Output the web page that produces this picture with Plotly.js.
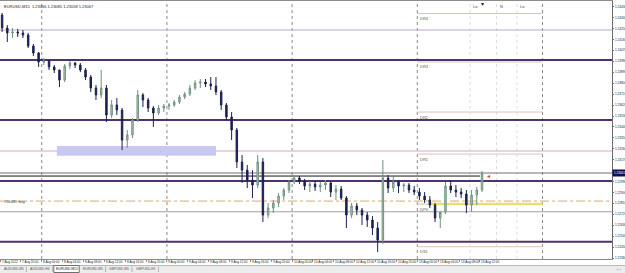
<!DOCTYPE html>
<html>
<head>
<meta charset="utf-8">
<script src="https://cdn.plot.ly/plotly-3.0.1.min.js"></script>
<style>
html,body{margin:0;padding:0;background:#fff;}
#chart{width:625px;height:273px;}
</style>
</head>
<body>
<div id="chart"></div>
<script>
// ---- data (hourly candles read from the EURUSD,M15 chart) ----
const openP = [1.24362,1.24255,1.24214,1.24222,1.24214,1.24197,1.24106,1.24049,1.23975,1.23983,
1.23934,1.23909,1.23826,1.23942,1.23966,1.23950,1.23909,1.23851,1.23761,1.23703,
1.23761,1.23538,1.23621,1.23580,1.23332,1.23374,1.23497,1.23703,1.23662,1.23596,
1.23555,1.23596,1.23612,1.23621,1.23645,1.23686,1.23711,1.23761,1.23802,1.23810,
1.23794,1.23777,1.23728,1.23621,1.23522,1.23415,1.23152,1.23085,1.23003,1.22962,
1.23152,1.22715,1.22773,1.22814,1.22871,1.22921,1.22987,1.23020,1.22995,1.22954,
1.22970,1.22946,1.22962,1.22979,1.22904,1.22929,1.22855,1.22715,1.22789,1.22756,
1.22715,1.22674,1.22608,1.22509,1.23020,1.22937,1.22987,1.22954,1.22962,1.22921,
1.22904,1.22871,1.22839,1.22797,1.22690,1.22740,1.22954,1.22921,1.22904,1.22888,
1.22797,1.22880,1.22921];
const highP = [1.24378,1.24279,1.24255,1.24246,1.24238,1.24214,1.24123,1.24057,1.24008,1.23991,
1.23950,1.23909,1.23958,1.23983,1.23975,1.23966,1.23925,1.23868,1.23785,1.23909,
1.23785,1.23662,1.23678,1.23596,1.23415,1.23514,1.23744,1.23719,1.23678,1.23612,
1.23621,1.23629,1.23637,1.23662,1.23703,1.23728,1.23785,1.23826,1.23835,1.23835,
1.23851,1.23851,1.23744,1.23637,1.23563,1.23432,1.23209,1.23127,1.23085,1.23209,
1.23184,1.22814,1.22839,1.22896,1.22937,1.23003,1.23044,1.23036,1.23012,1.22995,
1.22995,1.22987,1.23003,1.22987,1.22962,1.22954,1.22871,1.22814,1.22814,1.22773,
1.22740,1.22707,1.22657,1.23168,1.23044,1.23028,1.23003,1.22979,1.22979,1.22954,
1.22937,1.22904,1.22871,1.22814,1.22723,1.22987,1.23003,1.22962,1.22937,1.22921,
1.22921,1.22946,1.23077];
const lowP = [1.24222,1.24139,1.24173,1.24181,1.24173,1.24090,1.24024,1.23934,1.23950,1.23909,
1.23884,1.23769,1.23810,1.23917,1.23925,1.23892,1.23826,1.23728,1.23662,1.23678,
1.23481,1.23514,1.23538,1.23250,1.23267,1.23349,1.23481,1.23604,1.23563,1.23440,
1.23538,1.23563,1.23580,1.23604,1.23629,1.23670,1.23695,1.23744,1.23761,1.23769,
1.23744,1.23703,1.23580,1.23497,1.23332,1.23102,1.22979,1.22937,1.22855,1.22937,
1.22657,1.22690,1.22731,1.22781,1.22839,1.22896,1.22970,1.22970,1.22921,1.22904,
1.22913,1.22904,1.22921,1.22863,1.22839,1.22839,1.22608,1.22690,1.22715,1.22633,
1.22616,1.22550,1.22410,1.22476,1.22896,1.22904,1.22896,1.22904,1.22896,1.22880,
1.22839,1.22814,1.22773,1.22657,1.22608,1.22723,1.22896,1.22863,1.22855,1.22731,
1.22740,1.22797,1.22904];
const closeP = [1.24255,1.24214,1.24222,1.24214,1.24197,1.24106,1.24049,1.23975,1.23983,1.23934,
1.23909,1.23826,1.23942,1.23966,1.23950,1.23909,1.23851,1.23761,1.23703,1.23761,
1.23538,1.23621,1.23580,1.23332,1.23374,1.23497,1.23703,1.23662,1.23596,1.23555,
1.23596,1.23612,1.23621,1.23645,1.23686,1.23711,1.23761,1.23802,1.23810,1.23794,
1.23777,1.23728,1.23621,1.23522,1.23415,1.23152,1.23085,1.23003,1.22962,1.23152,
1.22715,1.22773,1.22814,1.22871,1.22921,1.22987,1.23020,1.22995,1.22954,1.22970,
1.22946,1.22962,1.22979,1.22904,1.22929,1.22855,1.22715,1.22789,1.22756,1.22715,
1.22674,1.22608,1.22509,1.23020,1.22937,1.22987,1.22954,1.22962,1.22921,1.22904,
1.22871,1.22839,1.22797,1.22690,1.22740,1.22954,1.22921,1.22904,1.22888,1.22797,
1.22880,1.22921,1.23061];

// time axis (hours from 7 Aug 16:00, weekend removed)
const timeTickHours = [0,4,8,12,16,20,24,28,32,36,40,44,48,52,56,60,64,68,72,76,80,84,88,92];
const timeTickLabels = ["7 Aug 2012","7 Aug 20:00","8 Aug 00:00","8 Aug 04:00","8 Aug 08:00","8 Aug 12:00",
"8 Aug 16:00","8 Aug 20:00","9 Aug 00:00","9 Aug 04:00","9 Aug 08:00","9 Aug 12:00","9 Aug 16:00",
"9 Aug 20:00","10 Aug 00:00","10 Aug 04:00","10 Aug 08:00","10 Aug 12:00","10 Aug 16:00","10 Aug 20:00",
"13 Aug 00:00","13 Aug 04:00","13 Aug 08:00","13 Aug 12:00"];
const daySeparators = [8,32,56,80,104];
const sessionHours = [90.1,95.2,99.1];
const sessionLabels = ["Lo","N","Lo"];

// price axis
const priceTicks = [1.24430,1.24340,1.24250,1.24160,1.24070,1.23980,1.23890,1.23800,1.23710,1.23620,
1.23530,1.23440,1.23350,1.23260,1.23170,1.22990,1.22900,1.22810,1.22720,1.22630,1.22540,1.22450,1.22360];
const priceTickLabels = priceTicks.map(v => v.toFixed(5));
const currentPrice = 1.23061;
const headerText = "EURUSD,M15  1.23066 1.23085 1.23058 1.23067";

// horizontal levels
const majorLevels = [1.23991, 1.23497, 1.22995, 1.22495];   // thick purple
const lightLevel = 1.24238;
const pinkLevel = 1.23242;
const grayLevel = 1.22742;
const orderLevel = 1.22830;
const orderLabel = "#56489 buy";
const trendLevel = 1.23036;
const zoneLow = 1.23203, zoneHigh = 1.23283, zoneStart = 10.9, zoneEnd = 41.4;
const pivotNames = ["DR4","DR3","DR2","DR1","DPV","DS1"];
const pivotLevels = [1.24374, 1.23975, 1.23563, 1.23217, 1.22805, 1.22454];
const pivotStart = 80, pivotEnd = 104, dpvBoldStart = 82.4;

const tabs = ["AUDUSD,M5","AUDUSD,H4","EURUSD,M15","EURUSD,M5","GBPUSD,M5","GBPUSD,H1"];
const activeTab = 2;

// ---- build ----
const hours = closeP.map((_, i) => i + 0.4);
const FONT = "Liberation Sans, DejaVu Sans, sans-serif";

const candles = {
  type: "candlestick",
  x: hours, open: openP, high: highP, low: lowP, close: closeP,
  increasing: {line: {color: "#6f9181", width: 1}, fillcolor: "#b9cbc1"},
  decreasing: {line: {color: "#1d2050", width: 1}, fillcolor: "#1d2050"},
  whiskerwidth: 0,
  hoverinfo: "skip",
  showlegend: false
};

const shapes = [];
const annotations = [];
const hline = (y, color, width, dash, x0, x1, xref) => shapes.push({
  type: "line", xref: xref || "paper", yref: "y", x0: x0 === undefined ? 0 : x0, x1: x1 === undefined ? 1 : x1,
  y0: y, y1: y, line: {color: color, width: width, dash: dash || "solid"}, layer: "below"
});

const pw = 612, ph = 258, py = v => (259 - v) / ph, px = v => v / pw;

// day and session separators
daySeparators.forEach(h => shapes.push({type: "line", xref: "x", yref: "paper", x0: h, x1: h, y0: 0, y1: 1,
  line: {color: "#8a8a8a", width: 1, dash: "dot"}, layer: "below"}));
sessionHours.forEach((h, i) => {
  shapes.push({type: "line", xref: "x", yref: "paper", x0: h, x1: h, y0: 0, y1: 1,
    line: {color: "#dcdcdc", width: 1, dash: "dot"}, layer: "below"});
  annotations.push({xref: "x", yref: "paper", x: h, y: 0.995, text: sessionLabels[i], showarrow: false,
    xanchor: "left", yanchor: "top", xshift: 1, font: {size: 4, color: "#444", family: FONT}});
});

// time labels (left-aligned after each tick, MetaTrader style)
timeTickHours.forEach((h, i) => annotations.push({xref: "x", yref: "paper", x: h, y: py(262.3),
  text: timeTickLabels[i], showarrow: false, xanchor: "left", yanchor: "middle", xshift: 0.5, borderpad: 0,
  font: {size: 3.1, color: "#222", family: FONT}}));

// price labels (left-aligned on the right scale)
priceTicks.forEach((v, i) => annotations.push({xref: "paper", yref: "y", x: 1, y: v,
  text: priceTickLabels[i], showarrow: false, xanchor: "left", yanchor: "middle", xshift: 1.5, borderpad: 0,
  font: {size: 3.1, color: "#222", family: FONT}}));

// zone rectangle
shapes.push({type: "rect", xref: "x", yref: "y", x0: zoneStart, x1: zoneEnd, y0: zoneLow, y1: zoneHigh,
  fillcolor: "#c8c8f3", line: {width: 0}, layer: "below"});

hline(lightLevel, "#b9a9c9", 1);
hline(pinkLevel, "#e3c3dc", 1.5);
hline(grayLevel, "#a0a0a0", 1);
hline(orderLevel, "#e0a868", 1, "dashdot");
hline(currentPrice, "#6e6e6e", 1);
hline(trendLevel, "#151515", 1, "solid", 0, 92, "x");
majorLevels.forEach(v => hline(v, "#4c3270", 2));

pivotNames.forEach((n, i) => {
  hline(pivotLevels[i], n === "DPV" ? "#cfc7a0" : "#d8c4bc", 1, "solid", pivotStart, pivotEnd, "x");
  annotations.push({xref: "x", yref: "y", x: pivotStart, y: pivotLevels[i], text: n, showarrow: false,
    xanchor: "left", yanchor: "top", xshift: 1, yshift: -0.5, font: {size: 4, color: "#555", family: FONT}});
});
hline(pivotLevels[4], "#e6df78", 2.5, "solid", dpvBoldStart, pivotEnd, "x");

// order label at left
annotations.push({xref: "paper", yref: "y", x: 0, y: orderLevel, text: orderLabel, showarrow: false,
  xanchor: "left", yanchor: "middle", xshift: 2, font: {size: 4, color: "#444", family: FONT}});
// header text
annotations.push({xref: "paper", yref: "paper", x: 0, y: 1, text: headerText, showarrow: false,
  xanchor: "left", yanchor: "top", xshift: 2, yshift: -1, font: {size: 4, color: "#222", family: FONT}});
// current price tag
annotations.push({xref: "paper", yref: "y", x: 1, y: currentPrice, text: currentPrice.toFixed(5), showarrow: false,
  xanchor: "left", yanchor: "middle", bgcolor: "#0e0e52", borderpad: 1, xshift: 0,
  font: {size: 3.0, color: "#ffffff", family: FONT}});
// trend line end marker and top marker
annotations.push({xref: "x", yref: "y", x: 93, y: trendLevel, text: "◂", showarrow: false,
  xanchor: "left", yanchor: "middle", font: {size: 6, color: "#e04020", family: FONT}});
annotations.push({xref: "x", yref: "paper", x: 92.4, y: 1.0, text: "▾", showarrow: false,
  xanchor: "center", yanchor: "top", yshift: 2, font: {size: 6, color: "#222", family: FONT}});

// tab bar
shapes.push({type: "rect", xref: "paper", yref: "paper", x0: px(0), x1: px(625), y0: py(273), y1: py(265.5),
  fillcolor: "#ececec", line: {width: 0}, layer: "above"});
shapes.push({type: "line", xref: "paper", yref: "paper", x0: px(0), x1: px(625), y0: py(265.5), y1: py(265.5),
  line: {color: "#b8b8b8", width: 1}, layer: "above"});
const tabW = 26.4;
tabs.forEach((t, i) => {
  const x0 = 1 + i * tabW;
  if (i === activeTab) {
    shapes.push({type: "rect", xref: "paper", yref: "paper", x0: px(x0), x1: px(x0 + tabW - 1), y0: py(272.5), y1: py(265.5),
      fillcolor: "#ffffff", line: {color: "#707070", width: 1}, layer: "above"});
  } else {
    shapes.push({type: "line", xref: "paper", yref: "paper", x0: px(x0 + tabW - 1), x1: px(x0 + tabW - 1), y0: py(272), y1: py(266.5),
      line: {color: "#b0b0b0", width: 1}, layer: "above"});
  }
  annotations.push({xref: "paper", yref: "paper", x: px(x0 + tabW / 2 - 0.5), y: py(269.2), text: t, showarrow: false,
    xanchor: "center", yanchor: "middle", borderpad: 0, font: {size: 3.4, color: i === activeTab ? "#111" : "#555", family: FONT}});
});
annotations.push({xref: "paper", yref: "paper", x: px(619), y: py(269.2), text: "‹ ›", showarrow: false,
  xanchor: "center", yanchor: "middle", borderpad: 0, font: {size: 4, color: "#555", family: FONT}});

const layout = {
  width: 625, height: 273,
  margin: {l: 0, r: 13, t: 1, b: 14, pad: 0},
  paper_bgcolor: "#ffffff", plot_bgcolor: "#ffffff",
  showlegend: false,
  boxgap: 0.6,
  xaxis: {
    range: [0, 117.32], type: "linear", rangeslider: {visible: false},
    showgrid: false, zeroline: false, showline: true, mirror: true, linecolor: "#8c8c8c", linewidth: 1,
    tickmode: "array", tickvals: timeTickHours, showticklabels: false,
    ticks: "outside", ticklen: 2, tickcolor: "#8c8c8c", fixedrange: true
  },
  yaxis: {
    range: [1.22353, 1.24477], side: "right",
    showgrid: false, zeroline: false, showline: true, linecolor: "#6c6c6c", linewidth: 1,
    tickmode: "array", tickvals: priceTicks, showticklabels: false,
    ticks: "outside", ticklen: 1, tickcolor: "#6c6c6c", fixedrange: true
  },
  shapes: shapes,
  annotations: annotations
};

Plotly.newPlot("chart", [candles], layout, {displayModeBar: false, staticPlot: true});
</script>
</body>
</html>
